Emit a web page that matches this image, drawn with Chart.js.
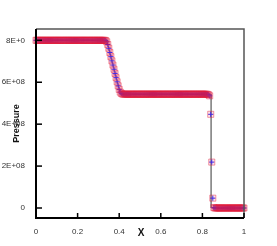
<!DOCTYPE html>
<html>
<head>
<meta charset="utf-8">
<script src="https://cdn.jsdelivr.net/npm/chart.js@4/dist/chart.umd.min.js"></script>
<style>
html,body{margin:0;padding:0;background:#fff;}
#wrap{width:277px;height:246px;position:relative;}
</style>
</head>
<body>
<div id="wrap"><canvas id="c"></canvas></div>
<script>
// X positions of the numerical solution (step 0.005)
const xs = [
0,0.005,0.01,0.015,0.02,0.025,0.03,0.035,0.04,0.045,0.05,0.055,0.06,0.065,0.07,0.075,0.08,0.085,0.09,0.095,
0.1,0.105,0.11,0.115,0.12,0.125,0.13,0.135,0.14,0.145,0.15,0.155,0.16,0.165,0.17,0.175,0.18,0.185,0.19,0.195,
0.2,0.205,0.21,0.215,0.22,0.225,0.23,0.235,0.24,0.245,0.25,0.255,0.26,0.265,0.27,0.275,0.28,0.285,0.29,0.295,
0.3,0.305,0.31,0.315,0.32,0.325,0.33,0.335,0.34,0.345,0.35,0.355,0.36,0.365,0.37,0.375,0.38,0.385,0.39,0.395,
0.4,0.405,0.41,0.415,0.42,0.425,0.43,0.435,0.44,0.445,0.45,0.455,0.46,0.465,0.47,0.475,0.48,0.485,0.49,0.495,
0.5,0.505,0.51,0.515,0.52,0.525,0.53,0.535,0.54,0.545,0.55,0.555,0.56,0.565,0.57,0.575,0.58,0.585,0.59,0.595,
0.6,0.605,0.61,0.615,0.62,0.625,0.63,0.635,0.64,0.645,0.65,0.655,0.66,0.665,0.67,0.675,0.68,0.685,0.69,0.695,
0.7,0.705,0.71,0.715,0.72,0.725,0.73,0.735,0.74,0.745,0.75,0.755,0.76,0.765,0.77,0.775,0.78,0.785,0.79,0.795,
0.8,0.805,0.81,0.815,0.82,0.825,0.83,0.835,0.84,0.845,0.85,0.855,0.86,0.865,0.87,0.875,0.88,0.885,0.89,0.895,
0.9,0.905,0.91,0.915,0.92,0.925,0.93,0.935,0.94,0.945,0.95,0.955,0.96,0.965,0.97,0.975,0.98,0.985,0.99,0.995,
1
];
// Pressure of scheme A (red squares), in units of 1E+08
const pressureSquares = [
8,8,8,8,8,8,8,8,8,8,8,8,8,8,8,8,8,8,8,8,
8,8,8,8,8,8,8,8,8,8,8,8,8,8,8,8,8,8,8,8,
8,8,8,8,8,8,8,8,8,8,8,8,8,8,8,8,8,8,8,8,
8,8,8,8,8,8,8,7.99,7.93,7.8,7.62,7.42,7.22,7.02,6.82,6.62,6.42,6.22,6.02,5.83,
5.66,5.53,5.47,5.44,5.43,5.43,5.43,5.43,5.43,5.43,5.43,5.43,5.43,5.43,5.43,5.43,5.43,5.43,5.43,5.43,
5.43,5.43,5.43,5.43,5.43,5.43,5.43,5.43,5.43,5.43,5.43,5.43,5.43,5.43,5.43,5.43,5.43,5.43,5.43,5.43,
5.43,5.43,5.43,5.43,5.43,5.43,5.43,5.43,5.43,5.43,5.43,5.43,5.43,5.43,5.43,5.43,5.43,5.43,5.43,5.43,
5.43,5.43,5.43,5.43,5.43,5.43,5.43,5.43,5.43,5.43,5.43,5.43,5.43,5.43,5.43,5.43,5.43,5.43,5.43,5.43,
5.43,5.43,5.43,5.43,5.43,5.42,5.4,5.35,4.47,2.19,0.47,0.02,0,0,0,0,0,0,0,0,
0,0,0,0,0,0,0,0,0,0,0,0,0,0,0,0,0,0,0,0,
0
];
// Pressure of scheme B (blue crosses), in units of 1E+08
const pressureCrosses = [
8,8,8,8,8,8,8,8,8,8,8,8,8,8,8,8,8,8,8,8,
8,8,8,8,8,8,8,8,8,8,8,8,8,8,8,8,8,8,8,8,
8,8,8,8,8,8,8,8,8,8,8,8,8,8,8,8,8,8,8,8,
8,8,8,8,8,8,8,7.99,7.93,7.8,7.62,7.42,7.22,7.02,6.82,6.62,6.42,6.22,6.02,5.83,
5.66,5.53,5.47,5.44,5.43,5.43,5.43,5.43,5.43,5.43,5.43,5.43,5.43,5.43,5.43,5.43,5.43,5.43,5.43,5.43,
5.43,5.43,5.43,5.43,5.43,5.43,5.43,5.43,5.43,5.43,5.43,5.43,5.43,5.43,5.43,5.43,5.43,5.43,5.43,5.43,
5.43,5.43,5.43,5.43,5.43,5.43,5.43,5.43,5.43,5.43,5.43,5.43,5.43,5.43,5.43,5.43,5.43,5.43,5.43,5.43,
5.43,5.43,5.43,5.43,5.43,5.43,5.43,5.43,5.43,5.43,5.43,5.43,5.43,5.43,5.43,5.43,5.43,5.43,5.43,5.43,
5.43,5.43,5.43,5.43,5.43,5.42,5.4,5.35,4.47,2.19,0.47,0.02,0,0,0,0,0,0,0,0,
0,0,0,0,0,0,0,0,0,0,0,0,0,0,0,0,0,0,0,0,
0
];
// Exact solution (gray line), pressure in units of 1E+08
const exactX = [0,0.338,0.345,0.35,0.36,0.37,0.38,0.39,0.4,0.405,0.41,0.842,0.842,1];
const exactP = [8,8,7.82,7.64,7.24,6.84,6.44,6.04,5.66,5.52,5.43,5.43,0,0];
// Axis ticks
const xTicks = [0,0.2,0.4,0.6,0.8,1];
const xTickLabels = ['0','0.2','0.4','0.6','0.8','1'];
const yTicks = [0,2,4,6,8];
const yTickLabels = ['0','2E+08','4E+08','6E+08','8E+0'];

const toPts = (X, Y) => X.map((x, i) => ({x: x, y: Y[i]}));

const FONT = "'Liberation Sans', Arial, sans-serif";

const framePlugin = {
  id: 'frame',
  afterDatasetsDraw(chart) {
    const ctx = chart.ctx;
    const a = chart.chartArea;
    const xs_ = chart.scales.x, ys_ = chart.scales.y;
    ctx.save();
    ctx.strokeStyle = '#555';
    ctx.lineWidth = 1.5;
    ctx.beginPath();
    ctx.moveTo(a.left, a.top); ctx.lineTo(a.right, a.top); ctx.lineTo(a.right, a.bottom);
    ctx.stroke();
    ctx.strokeStyle = '#000';
    ctx.lineWidth = 2;
    ctx.beginPath();
    ctx.moveTo(a.left, a.top); ctx.lineTo(a.left, a.bottom); ctx.lineTo(a.right, a.bottom);
    ctx.stroke();
    ctx.lineWidth = 1.5;
    yTicks.forEach(v => {
      const py = ys_.getPixelForValue(v);
      ctx.beginPath(); ctx.moveTo(a.left, py); ctx.lineTo(a.left + 6, py); ctx.stroke();
    });
    xTicks.forEach(v => {
      const px = xs_.getPixelForValue(v);
      ctx.beginPath(); ctx.moveTo(px, a.bottom); ctx.lineTo(px, a.bottom - 5); ctx.stroke();
    });
    ctx.fillStyle = '#111';
    ctx.font = 'bold 10px ' + FONT;
    ctx.textAlign = 'center';
    ctx.textBaseline = 'middle';
    ctx.fillText('X', (a.left + a.right) / 2 + 1, a.bottom + 15);
    ctx.translate(17, (a.top + a.bottom) / 2);
    ctx.rotate(-Math.PI / 2);
    ctx.font = 'bold 9px ' + FONT;
    ctx.fillText('Pressure', 0, 0);
    ctx.restore();
  }
};

new Chart(document.getElementById('c'), {
  type: 'scatter',
  data: {
    datasets: [
      {
        label: 'Scheme A',
        data: toPts(xs, pressureSquares),
        pointStyle: 'rect',
        pointRadius: 4.3,
        pointBorderWidth: 1,
        borderColor: 'rgba(225,25,55,0.42)',
        backgroundColor: 'rgba(235,40,70,0.13)',
        showLine: false,
        clip: false
      },
      {
        label: 'Scheme B',
        data: toPts(xs, pressureCrosses),
        pointStyle: 'cross',
        pointRadius: 2.6,
        pointBorderWidth: 1,
        borderColor: 'rgb(40,40,255)',
        backgroundColor: 'rgb(40,40,255)',
        showLine: false,
        clip: false
      },
      {
        label: 'Exact',
        data: toPts(exactX, exactP),
        showLine: true,
        pointRadius: 0,
        borderColor: '#888',
        borderWidth: 1,
        clip: false
      }
    ]
  },
  options: {
    responsive: true,
    maintainAspectRatio: false,
    animation: false,
    devicePixelRatio: 1,
    layout: {padding: {left: 0, top: 29, right: 33, bottom: 0}},
    plugins: {legend: {display: false}, tooltip: {enabled: false}},
    scales: {
      x: {
        type: 'linear',
        min: 0, max: 1,
        grid: {display: false},
        border: {display: false},
        afterBuildTicks: s => { s.ticks = xTicks.map(v => ({value: v})); },
        afterFit: s => { s.height = 28; },
        ticks: {
          padding: 1,
          color: '#333',
          font: {family: FONT, size: 8},
          maxRotation: 0,
          callback: (v) => { const i = xTicks.indexOf(v); return i >= 0 ? xTickLabels[i] : ''; }
        }
      },
      y: {
        type: 'linear',
        min: -0.477, max: 8.54,
        grid: {display: false},
        border: {display: false},
        afterBuildTicks: s => { s.ticks = yTicks.map(v => ({value: v})); },
        afterFit: s => { s.width = 36; },
        ticks: {
          padding: 3,
          color: '#333',
          font: {family: FONT, size: 8},
          callback: (v) => { const i = yTicks.indexOf(v); return i >= 0 ? yTickLabels[i] : ''; }
        }
      }
    }
  },
  plugins: [framePlugin]
});
</script>
</body>
</html>
